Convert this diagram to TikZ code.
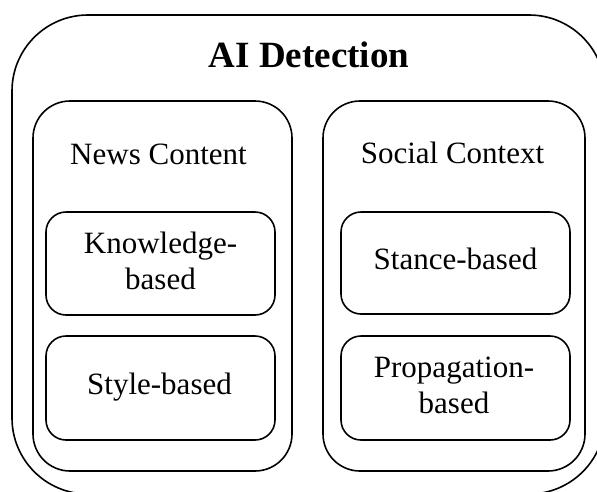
\documentclass[tikz,border=0pt]{standalone}
\usepackage{fontspec}
\setmainfont{Liberation Serif}
\begin{document}
\begin{tikzpicture}[x=1pt,y=-1pt,
  frame/.style={draw=black,line width=1.6pt,inner sep=0pt,rectangle},
  bigframe/.style={frame,rounded corners=76pt},
  midframe/.style={frame,rounded corners=37pt},
  smallframe/.style={frame,rounded corners=20pt,minimum width=229pt},
  lbl/.style={anchor=base,inner sep=0pt,align=center,font=\fontsize{31}{36}\selectfont},
  ttl/.style={anchor=base,inner sep=0pt,font=\fontsize{37}{42}\selectfont\bfseries}]
\useasboundingbox (0,0) rectangle (597,491);
\clip (0,0) rectangle (597,491);
\fill[white] (0,0) rectangle (597,491);
\node[bigframe,minimum width=593pt,minimum height=479pt] (outer) at (308.5,254.5) {};
\node[midframe,minimum width=259pt,minimum height=370pt] (news) at (162.5,286) {};
\node[midframe,minimum width=262pt,minimum height=370pt] (social) at (454,286) {};
\node[smallframe,minimum height=103pt] (know) at (160.5,263.5) {};
\node[smallframe,minimum height=104pt] (style) at (160.5,388) {};
\node[smallframe,minimum height=102pt] (stance) at (455.5,263) {};
\node[smallframe,minimum height=104pt] (prop) at (455.5,388) {};
\node[ttl] (title) at (309,67) {AI Detection};
\node[lbl] (newst) at (158.5,164) {News Content};
\node[lbl] (socialt) at (452.5,163) {Social Context};
\node[lbl] (knowt) at (160.5,289) {Knowledge-\\based};
\node[lbl] (stylet) at (159.5,394) {Style-based};
\node[lbl] (stancet) at (455.5,269) {Stance-based};
\node[lbl] (propt) at (454,413) {Propagation-\\based};
\end{tikzpicture}
\end{document}
